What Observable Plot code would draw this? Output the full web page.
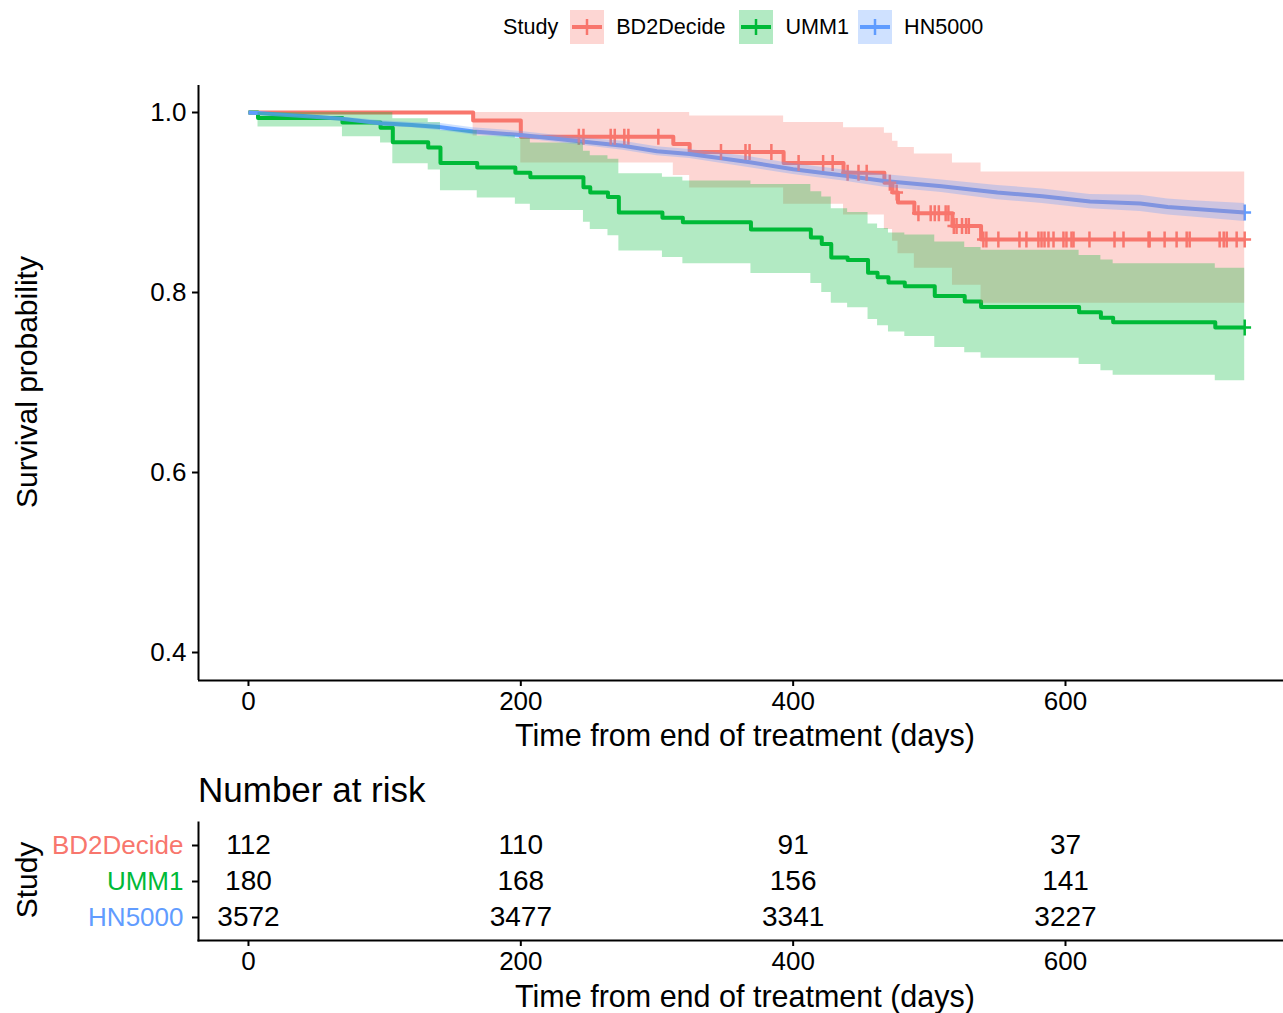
<!DOCTYPE html>
<html>
<head>
<meta charset="utf-8">
<script src="https://cdn.jsdelivr.net/npm/d3@7"></script>
<script src="https://cdn.jsdelivr.net/npm/@observablehq/plot@0.6"></script>
<style>
  body { margin: 0; background: #fff; font-family: "Liberation Sans", Arial, sans-serif; }
  #wrap { position: relative; width: 1283px; height: 1013px; overflow: hidden; background: #fff; }
  #wrap > svg, #wrap > figure { position: absolute; left: 0; margin: 0; }
  .lbl { position: absolute; color: #000; white-space: nowrap; line-height: 1; }
  #legend { position: absolute; top: 10px; left: 503px; height: 34px; display: flex; align-items: center; font-size: 21.6px; color: #000; }
  #legend svg { display: block; }
</style>
</head>
<body>
<div id="wrap"></div>
<script>
// ---------------- data ----------------
const studies = ["BD2Decide", "UMM1", "HN5000"];
const studyColors = ["#F8766D", "#00BA38", "#619CFF"];

// BD2Decide (Kaplan-Meier steps)
const bdTime  = [0, 165, 200, 312, 324, 393, 437, 467, 473, 477, 489, 517, 538, 731.6];
const bdSurv  = [1, 0.991, 0.973, 0.965, 0.956, 0.944, 0.933, 0.922, 0.911, 0.900, 0.888, 0.874, 0.859, 0.859];
const bdLower = [1, 0.974, 0.944, 0.930, 0.916, 0.898, 0.886, 0.870, 0.857, 0.843, 0.827, 0.808, 0.788, 0.788];
const bdUpper = [1, 1, 1, 1, 0.996, 0.989, 0.983, 0.977, 0.968, 0.961, 0.954, 0.944, 0.934, 0.934];
const bdCensor = [242.6, 246, 266, 269, 276, 279, 301, 347, 365, 368, 384, 404, 422, 429, 440, 448, 454,
  471, 476, 492, 501, 504, 507, 512, 514, 518, 520, 524, 527, 529, 539.7, 541.9, 550.7, 566.2, 571.3,
  580.1, 582.4, 584.6, 587.5, 591.2, 598.5, 600.7, 604.4, 605.9, 617.6, 636, 642.6, 661, 661.8, 672.8,
  681.6, 689, 691.2, 713.2, 716.2, 718.4, 725.7, 731.6];

// UMM1
const ummTime  = [0, 7, 69, 97, 106, 132, 141, 168, 196, 207, 246, 251, 264, 272, 304, 319, 369, 413, 421, 428,
  440, 455, 462, 470, 482, 504, 526, 538, 610, 626, 635, 710, 731.6];
const ummSurv  = [1, 0.994, 0.989, 0.983, 0.967, 0.961, 0.944, 0.939, 0.933, 0.928, 0.917, 0.911, 0.906, 0.889, 0.883, 0.878, 0.870, 0.861, 0.854, 0.839,
  0.836, 0.822, 0.817, 0.811, 0.807, 0.796, 0.790, 0.784, 0.778, 0.772, 0.767, 0.761, 0.761];
const ummLower = [1, 0.984, 0.973, 0.966, 0.943, 0.936, 0.913, 0.905, 0.898, 0.891, 0.878, 0.870, 0.863, 0.846, 0.839, 0.832, 0.821, 0.810, 0.800, 0.788,
  0.783, 0.770, 0.763, 0.756, 0.751, 0.739, 0.733, 0.727, 0.720, 0.713, 0.708, 0.702, 0.702];
const ummUpper = [1, 1, 1, 1, 0.993, 0.989, 0.980, 0.974, 0.971, 0.966, 0.957, 0.952, 0.948, 0.932, 0.928, 0.924, 0.920, 0.912, 0.906, 0.893,
  0.889, 0.876, 0.871, 0.866, 0.864, 0.856, 0.850, 0.847, 0.841, 0.836, 0.832, 0.827, 0.827];
const ummCensor = [731.6];

// HN5000
const hnTime  = [0, 20, 40, 68, 97, 120, 140, 165, 200, 243, 275, 300, 324, 367, 400, 437, 467, 509, 550, 583, 618, 655, 675, 693, 731.6];
const hnSurv  = [1, 0.998, 0.996, 0.993, 0.988, 0.986, 0.984, 0.979, 0.975, 0.968, 0.963, 0.957, 0.954, 0.945, 0.937, 0.930, 0.924, 0.918, 0.911, 0.907, 0.901, 0.899, 0.895, 0.893, 0.889];
const hnLower = [1, 0.997, 0.995, 0.991, 0.985, 0.983, 0.980, 0.975, 0.971, 0.964, 0.958, 0.952, 0.949, 0.939, 0.931, 0.924, 0.917, 0.911, 0.903, 0.899, 0.893, 0.890, 0.886, 0.884, 0.879];
const hnUpper = [1, 0.999, 0.997, 0.995, 0.991, 0.989, 0.988, 0.983, 0.979, 0.972, 0.968, 0.962, 0.959, 0.951, 0.943, 0.936, 0.931, 0.925, 0.919, 0.915, 0.909, 0.908, 0.904, 0.902, 0.899];
const hnCensor = [731.6];

// Number at risk
const riskTimes = [0, 200, 400, 600];
const riskBD  = [112, 110, 91, 37];
const riskUMM = [180, 168, 156, 141];
const riskHN  = [3572, 3477, 3341, 3227];

const xTicks = [0, 200, 400, 600];
const yTicks = [0.4, 0.6, 0.8, 1.0];

// ---------------- build tables ----------------
const colorOf = Object.fromEntries(studies.map((s, i) => [s, studyColors[i]]));
function rows(study, t, s, lo, hi) { return t.map((d, i) => ({study, time: d, surv: s[i], lower: lo[i], upper: hi[i]})); }
function survAt(t, times, surv) { let v = surv[0]; times.forEach((d, i) => { if (d <= t) v = surv[i]; }); return v; }
function censorRows(study, cens, times, surv) { return cens.map(t => ({study, time: t, surv: survAt(t, times, surv)})); }

const bd = rows("BD2Decide", bdTime, bdSurv, bdLower, bdUpper);
const umm = rows("UMM1", ummTime, ummSurv, ummLower, ummUpper);
const hn = rows("HN5000", hnTime, hnSurv, hnLower, hnUpper);
const censors = [
  ...censorRows("BD2Decide", bdCensor, bdTime, bdSurv),
  ...censorRows("UMM1", ummCensor, ummTime, ummSurv),
  ...censorRows("HN5000", hnCensor, hnTime, hnSurv)
];
const risk = [
  ...riskTimes.map((t, i) => ({study: "BD2Decide", time: t, n: riskBD[i]})),
  ...riskTimes.map((t, i) => ({study: "UMM1", time: t, n: riskUMM[i]})),
  ...riskTimes.map((t, i) => ({study: "HN5000", time: t, n: riskHN[i]}))
];

const plusSymbol = {
  draw(ctx, size) {
    const r = Math.sqrt(size / Math.PI);
    ctx.moveTo(-r * 0.8, 0); ctx.lineTo(r * 0.8, 0);
    ctx.moveTo(0, -r); ctx.lineTo(0, r);
  }
};

const xDomain = [-36.7, 760.1];
const fontFamily = "'Liberation Sans', Arial, sans-serif";

// ---------------- main plot ----------------
const main = Plot.plot({
  width: 1283, height: 770,
  marginTop: 85, marginBottom: 90, marginLeft: 198, marginRight: 0,
  style: {fontFamily, fontSize: "26px", color: "#000", background: "#fff", overflow: "visible"},
  x: {domain: xDomain, label: null},
  y: {domain: [0.3689, 1.03], label: null},
  color: {domain: studies, range: studyColors},
  marks: [
    Plot.line(bd, {x: "time", y: "surv", curve: "step-after", stroke: colorOf["BD2Decide"], strokeWidth: 4, strokeLinecap: "butt"}),
    Plot.line(umm, {x: "time", y: "surv", curve: "step-after", stroke: colorOf["UMM1"], strokeWidth: 4, strokeLinecap: "butt"}),
    Plot.line(hn, {x: "time", y: "surv", curve: "linear", stroke: colorOf["HN5000"], strokeWidth: 4, strokeLinecap: "butt"}),
    Plot.dot(censors, {x: "time", y: "surv", symbol: plusSymbol, r: 8, stroke: "study", fill: "none", strokeWidth: 2.5}),
    Plot.areaY(bd, {x: "time", y1: "lower", y2: "upper", curve: "step-after", fill: colorOf["BD2Decide"], fillOpacity: 0.3}),
    Plot.areaY(umm, {x: "time", y1: "lower", y2: "upper", curve: "step-after", fill: colorOf["UMM1"], fillOpacity: 0.3}),
    Plot.areaY(hn, {x: "time", y1: "lower", y2: "upper", curve: "linear", fill: colorOf["HN5000"], fillOpacity: 0.3}),
    Plot.axisX({ticks: xTicks, tickSize: 6, tickPadding: 5, fontSize: 26, label: null, stroke: "#000", strokeWidth: 2, fill: "#000"}),
    Plot.axisY({ticks: yTicks, tickFormat: d3.format(".1f"), tickSize: 6, tickPadding: 6, fontSize: 26, label: null, stroke: "#000", strokeWidth: 2, fill: "#000"}),
    Plot.ruleX([xDomain[0]], {stroke: "#000", strokeWidth: 2}),
    Plot.ruleY([0.3689], {stroke: "#000", strokeWidth: 2})
  ]
});
main.style.top = "0px";

// ---------------- risk table ----------------
const table = Plot.plot({
  width: 1283, height: 243,
  marginTop: 52, marginBottom: 73, marginLeft: 198, marginRight: 0,
  style: {fontFamily, fontSize: "26px", color: "#000", background: "transparent", overflow: "visible"},
  x: {domain: xDomain, label: null},
  y: {type: "point", domain: studies, padding: 0.6, label: null},
  marks: [
    Plot.text(risk, {x: "time", y: "study", text: d => String(d.n), fontSize: 28, fill: "#000"}),
    Plot.axisX({ticks: xTicks, tickSize: 6, tickPadding: 5, fontSize: 26, label: null, stroke: "#000", strokeWidth: 2, fill: "#000"}),
    Plot.axisY({tickSize: 6, tickPadding: 9, fontSize: 26, label: null, stroke: "#000", strokeWidth: 2, fill: d => colorOf[d]}),
    Plot.frame({anchor: "left", stroke: "#000", strokeWidth: 2}),
    Plot.frame({anchor: "bottom", stroke: "#000", strokeWidth: 2})
  ]
});
table.style.top = "770px";

const wrap = document.getElementById("wrap");
wrap.appendChild(main);
wrap.appendChild(table);

// ---------------- texts ----------------
function addLabel(text, css) {
  const d = document.createElement("div");
  d.className = "lbl";
  d.textContent = text;
  Object.assign(d.style, css);
  wrap.appendChild(d);
  return d;
}
addLabel("Time from end of treatment (days)", {left: "745px", top: "720px", fontSize: "30.5px", transform: "translateX(-50%)"});
addLabel("Survival probability", {left: "27px", top: "382px", fontSize: "30px", transform: "translate(-50%,-50%) rotate(-90deg)"});
addLabel("Number at risk", {left: "198px", top: "772px", fontSize: "35px"});
addLabel("Study", {left: "27px", top: "880px", fontSize: "30px", transform: "translate(-50%,-50%) rotate(-90deg)"});
addLabel("Time from end of treatment (days)", {left: "745px", top: "981px", fontSize: "30.5px", transform: "translateX(-50%)"});

// ---------------- legend ----------------
const legend = document.createElement("div");
legend.id = "legend";
const title = document.createElement("span");
title.textContent = "Study";
title.style.marginRight = "12px";
legend.appendChild(title);
studies.forEach((s, i) => {
  const ns = "http://www.w3.org/2000/svg";
  const k = document.createElementNS(ns, "svg");
  k.setAttribute("width", 34); k.setAttribute("height", 34);
  k.innerHTML = `<line x1="2" x2="32" y1="17" y2="17" stroke="${studyColors[i]}" stroke-width="4"/>` +
    `<line x1="17" x2="17" y1="9" y2="25" stroke="${studyColors[i]}" stroke-width="2.5"/>` +
    `<rect x="0" y="0" width="34" height="34" fill="${studyColors[i]}" fill-opacity="0.3"/>`;
  k.style.marginRight = "12px";
  legend.appendChild(k);
  const t = document.createElement("span");
  t.textContent = s;
  t.style.marginRight = i === 0 ? "14px" : "9px";
  legend.appendChild(t);
});
wrap.appendChild(legend);
</script>
</body>
</html>
